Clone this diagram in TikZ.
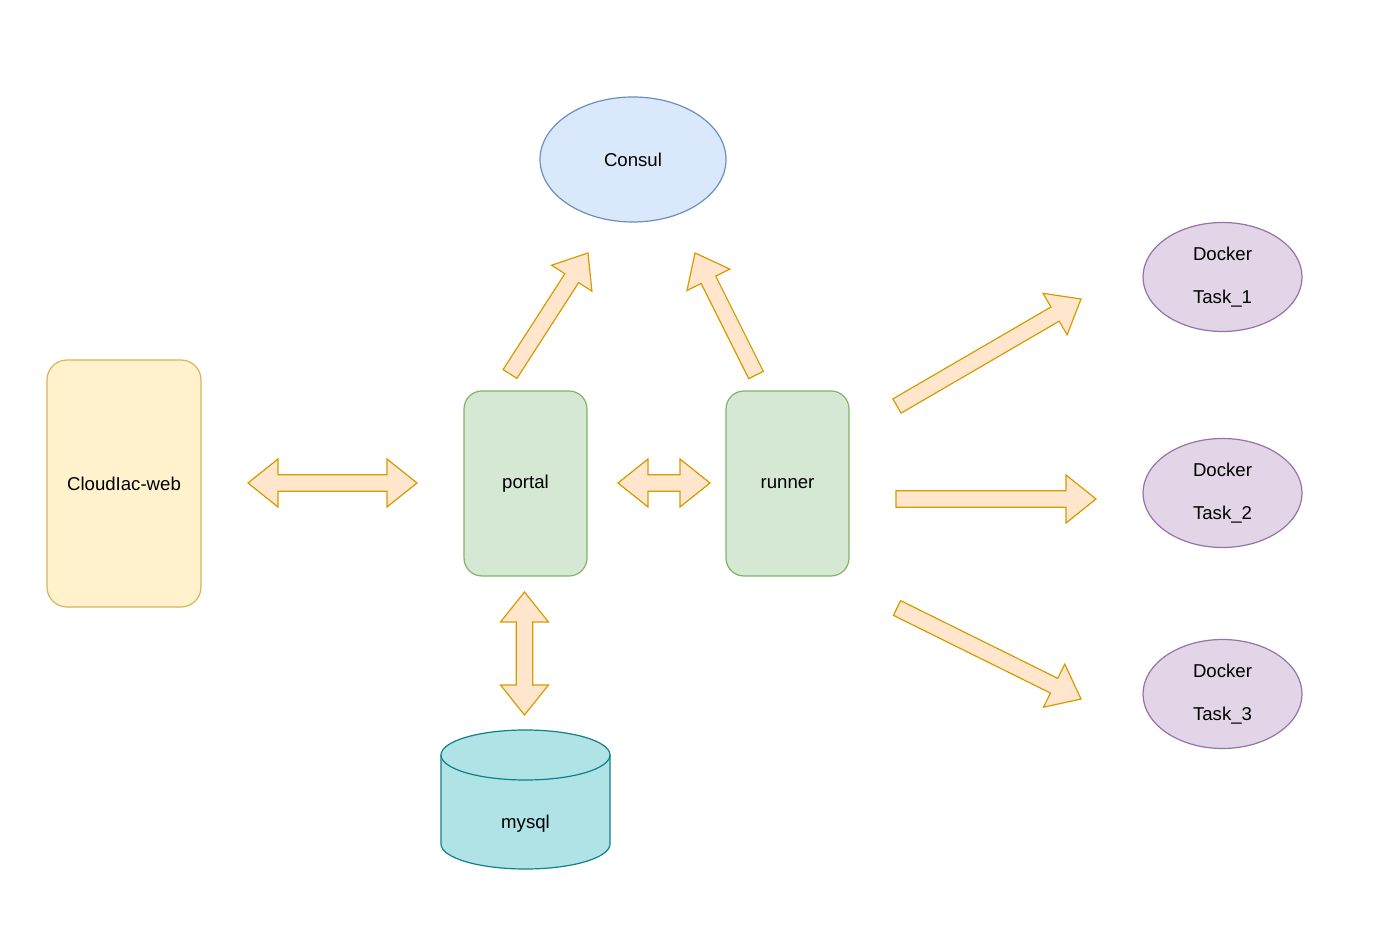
\documentclass[tikz,border=0pt]{standalone}
\usepackage{fontspec}
\setmainfont{Liberation Sans}
\definecolor{WEBfill}{HTML}{FFF2CC}
\definecolor{WEBline}{HTML}{D6B656}
\definecolor{SVCfill}{HTML}{D5E8D4}
\definecolor{SVCline}{HTML}{82B366}
\definecolor{CSLfill}{HTML}{DAE8FC}
\definecolor{CSLline}{HTML}{6C8EBF}
\definecolor{TSKfill}{HTML}{E1D5E7}
\definecolor{TSKline}{HTML}{9673A6}
\definecolor{DBfill}{HTML}{B0E3E6}
\definecolor{DBline}{HTML}{0E8088}
\definecolor{ARRfill}{HTML}{FFE6CC}
\definecolor{ARRline}{HTML}{D79B00}
\usetikzlibrary{calc, shapes.geometric}

% block arrow: tail, tip
\newcommand{\blockarrow}[2]{%
  \draw[flowarrow] let \p1=(#1), \p2=(#2), \p3=($(#2)!15pt!(#1)$) in
    ($(\p1)!4.1pt!90:(\p2)$) -- ($(\p3)!4.1pt!90:(\p2)$) -- ($(\p3)!12pt!90:(\p2)$) -- (\p2)
    -- ($(\p3)!12pt!-90:(\p2)$) -- ($(\p3)!4.1pt!-90:(\p2)$) -- ($(\p1)!4.1pt!-90:(\p2)$) -- cycle;
}
% block arrow with two heads
\newcommand{\twinarrow}[2]{%
  \draw[flowarrow] let \p1=(#1), \p2=(#2), \p3=($(#1)!15pt!(#2)$), \p4=($(#2)!15pt!(#1)$) in
    (\p1) -- ($(\p3)!12pt!90:(\p2)$) -- ($(\p3)!4.1pt!90:(\p2)$) -- ($(\p4)!4.1pt!90:(\p2)$)
    -- ($(\p4)!12pt!90:(\p2)$) -- (\p2) -- ($(\p4)!12pt!-90:(\p2)$) -- ($(\p4)!4.1pt!-90:(\p2)$)
    -- ($(\p3)!4.1pt!-90:(\p2)$) -- ($(\p3)!12pt!-90:(\p2)$) -- cycle;
}

\begin{document}
\begin{tikzpicture}[x=0.5pt, y=0.5pt,
    font=\fontsize{9.3pt}{11pt}\selectfont,
    flowarrow/.style={fill=ARRfill, draw=ARRline, line width=0.6pt},
    webbox/.style={draw=WEBline, fill=WEBfill, line width=0.6pt, rounded corners=10pt,
      minimum width=77pt, minimum height=123.5pt, inner sep=0pt},
    svcbox/.style={draw=SVCline, fill=SVCfill, line width=0.6pt, rounded corners=9pt,
      minimum width=61.5pt, minimum height=92.5pt, inner sep=0pt},
    consul/.style={ellipse, draw=CSLline, fill=CSLfill, line width=0.6pt,
      minimum width=93pt, minimum height=62.5pt, inner sep=0pt},
    task/.style={ellipse, draw=TSKline, fill=TSKfill, line width=0.6pt,
      minimum width=79.5pt, minimum height=54.5pt, inner sep=0pt, align=center,
      font=\fontsize{9.3pt}{21.5pt}\selectfont},
    dbtext/.style={minimum width=85pt, minimum height=30pt, inner sep=0pt}]
  \useasboundingbox (0,0) rectangle (1400,942);

  \node[consul] (consul) at (633,782.5) {Consul};
  \node[webbox] (web) at (124,458.5) {CloudIac-web};
  \node[svcbox] (portal) at (525.5,458.5) {portal};
  \node[svcbox] (runner) at (787.5,458.5) {runner};
  \node[task] (task1) at (1222.5,665) {Docker\\Task\_1};
  \node[task] (task2) at (1222.5,449) {Docker\\Task\_2};
  \node[task] (task3) at (1222.5,248) {Docker\\Task\_3};

  % mysql cylinder
  \filldraw[DBline, fill=DBfill, line width=0.6pt] (441,187) -- (441,98)
    arc[start angle=180, end angle=360, x radius=42.25pt, y radius=12.5pt] -- (610,187)
    arc[start angle=0, end angle=180, x radius=42.25pt, y radius=12.5pt] -- cycle;
  \draw[DBline, line width=0.6pt] (441,187)
    arc[start angle=180, end angle=360, x radius=42.25pt, y radius=12.5pt];
  \node[dbtext] (mysql) at (525.5,118) {mysql};

  \coordinate (wp-l) at (248,459);
  \coordinate (wp-r) at (417,459);
  \coordinate (pr-l) at (618,459);
  \coordinate (pr-r) at (710,459);
  \coordinate (pm-t) at (524.5,350);
  \coordinate (pm-b) at (524.5,227);
  \coordinate (pc-tail) at (510,568);
  \coordinate (pc-tip) at (588,689);
  \coordinate (rc-tail) at (756,567);
  \coordinate (rc-tip) at (695,689);
  \coordinate (r1-tail) at (897,536);
  \coordinate (r1-tip) at (1081,643);
  \coordinate (r2-tail) at (896,443);
  \coordinate (r2-tip) at (1096,443);
  \coordinate (r3-tail) at (897,334);
  \coordinate (r3-tip) at (1081,243);

  \twinarrow{wp-l}{wp-r}
  \twinarrow{pr-l}{pr-r}
  \twinarrow{pm-t}{pm-b}
  \blockarrow{pc-tail}{pc-tip}
  \blockarrow{rc-tail}{rc-tip}
  \blockarrow{r1-tail}{r1-tip}
  \blockarrow{r2-tail}{r2-tip}
  \blockarrow{r3-tail}{r3-tip}
\end{tikzpicture}
\end{document}
